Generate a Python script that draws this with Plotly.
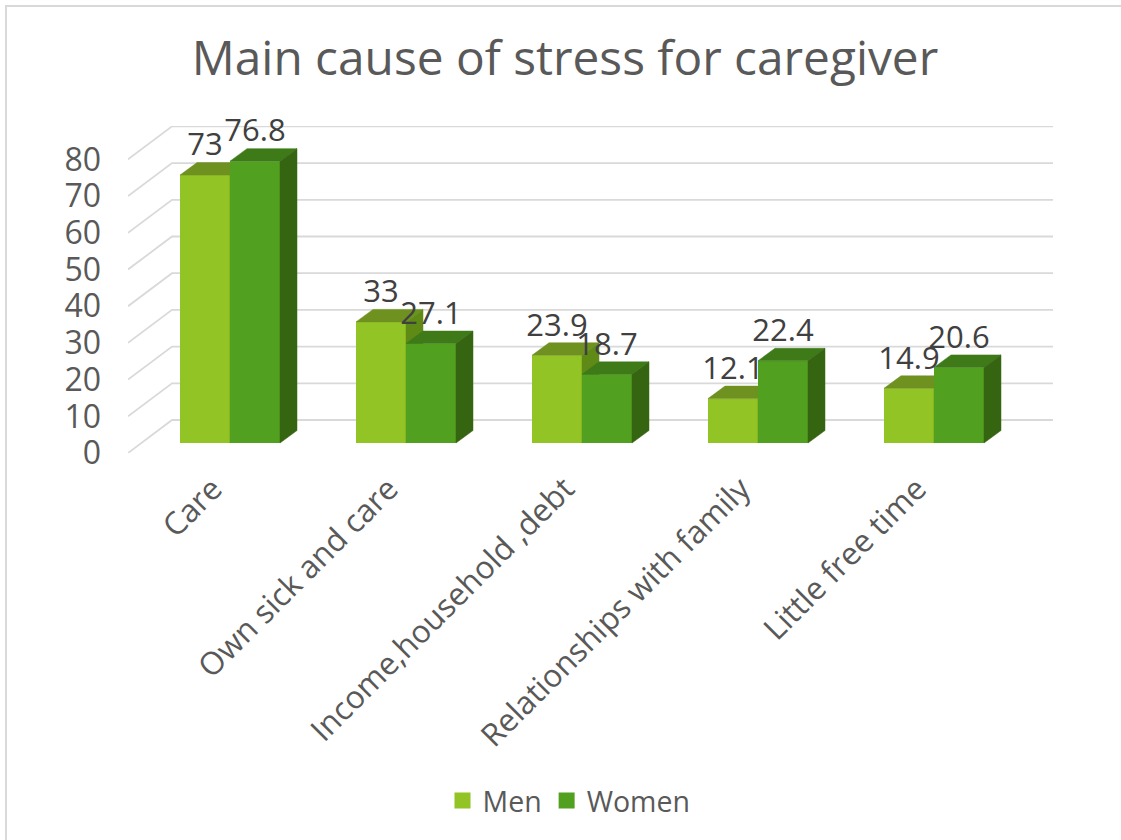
import plotly.graph_objects as go

categories = ["Care", "Own sick and care", "Income,household ,debt", "Relationships with family", "Little free time"]
men = [73, 33, 23.9, 12.1, 14.9]
women = [76.8, 27.1, 18.7, 22.4, 20.6]
men_labels = ["73", "33", "23.9", "12.1", "14.9"]
women_labels = ["76.8", "27.1", "18.7", "22.4", "20.6"]
y_ticks = [0, 10, 20, 30, 40, 50, 60, 70, 80]

W, H = 1121, 840
L, R, T, B = 128, 1053, 126, 453
PX_X = 176.0   # pixels per category
PX_Y = 3.67    # pixels per value unit
X0 = 230.0     # pixel of first category
Y0 = 443.0     # pixel of value 0 on the bars' front plane

bar_w = 50 / PX_X
dep_x = 17 / PX_X
dep_y = 12.5 / PX_Y
lab_up = 27.5 / PX_Y
xr = [(L - X0) / PX_X, (R - X0) / PX_X]
yr = [(Y0 - B) / PX_Y, (Y0 - T) / PX_Y]
grid_back = (B - 420) / PX_Y
x_back = (172 - X0) / PX_X

C = dict(men="#92C425", men_top="#6F9120", men_side="#5F8A16",
         women="#52A020", women_top="#3E7A18", women_side="#366511")
FONT = "Open Sans"
TXT = "#595959"
LAB = "#404040"

fig = go.Figure()

# back-wall gridlines with the side-wall perspective run
for v in y_ticks:
    fig.add_trace(go.Scatter(
        x=[xr[0], x_back, xr[1]], y=[v, v + grid_back, v + grid_back],
        mode="lines", line=dict(color="#D9D9D9", width=1.8),
        showlegend=False, hoverinfo="skip", yaxis="y", cliponaxis=False))


def poly(xs, ys, color, yaxis):
    fig.add_trace(go.Scatter(x=xs, y=ys, mode="lines", fill="toself", fillcolor=color,
                             line=dict(color=color, width=0.5), showlegend=False,
                             hoverinfo="skip", yaxis=yaxis, cliponaxis=False))


def series(vals, name, offset, c_front, c_top, c_side, yaxis):
    fig.add_trace(go.Bar(x=list(range(len(vals))), y=vals, width=bar_w, offset=offset,
                         marker=dict(color=c_front, line=dict(width=0)), name=name,
                         showlegend=False, yaxis=yaxis))
    for i, v in enumerate(vals):
        xa = i + offset
        xb = xa + bar_w
        poly([xa, xb, xb + dep_x, xa + dep_x, xa], [v, v, v + dep_y, v + dep_y, v], c_top, yaxis)
        poly([xb, xb + dep_x, xb + dep_x, xb, xb], [0, dep_y, v + dep_y, v, 0], c_side, yaxis)


series(men, "Men", -bar_w, C["men"], C["men_top"], C["men_side"], "y2")
series(women, "Women", 0, C["women"], C["women_top"], C["women_side"], "y3")

# data labels
idx = list(range(len(categories)))
fig.add_trace(go.Scatter(x=[i - bar_w / 2 for i in idx], y=[v + lab_up for v in men], text=men_labels,
                         mode="text", textposition="middle center", showlegend=False, hoverinfo="skip",
                         textfont=dict(family=FONT, size=31, color=LAB), yaxis="y3", cliponaxis=False))
fig.add_trace(go.Scatter(x=[i + bar_w / 2 for i in idx], y=[v + lab_up for v in women], text=women_labels,
                         mode="text", textposition="middle center", showlegend=False, hoverinfo="skip",
                         textfont=dict(family=FONT, size=31, color=LAB), yaxis="y3", cliponaxis=False))

# legend entries
for name, col in (("Men", C["men"]), ("Women", C["women"])):
    fig.add_trace(go.Scatter(x=[None], y=[None], mode="markers", name=name,
                             marker=dict(symbol="square", size=16, color=col), yaxis="y"))

ax_common = dict(range=yr, showgrid=False, zeroline=False, showticklabels=False, ticks="", showline=False)
fig.update_layout(
    width=W, height=H, autosize=False,
    margin=dict(l=L, r=W - R, t=T, b=H - B, pad=0),
    paper_bgcolor="white", plot_bgcolor="white",
    title=dict(text="Main cause of stress for caregiver", x=565 / W, xanchor="center",
               y=1 - 58 / H, yanchor="middle", font=dict(family=FONT, size=47.8, color=TXT)),
    barmode="overlay",
    xaxis=dict(range=xr, tickmode="array", tickvals=idx, ticktext=categories, tickangle=-45,
               showgrid=False, zeroline=False, showline=False, ticks="",
               ticklabelstandoff=10, ticklabelshift=-17,
               tickfont=dict(family=FONT, size=31.5, color=TXT)),
    yaxis=dict(range=[0, (B - T) / PX_Y], tickmode="array", tickvals=y_ticks,
               showgrid=False, zeroline=False, showline=False, ticks="",
               ticklabelstandoff=26, tickfont=dict(family=FONT, size=32, color=TXT)),
    yaxis2=dict(overlaying="y", **ax_common),
    yaxis3=dict(overlaying="y", **ax_common),
    legend=dict(orientation="h", x=569 / W, xanchor="center", y=1 - 801 / H, yanchor="middle",
                xref="container", yref="container",
                font=dict(family=FONT, size=28.5, color=TXT), itemclick=False),
    shapes=[dict(type="path", xref="paper", yref="paper",
                 path=f"M {(6 - L) / (R - L)} {(B - H) / (B - T)} L {(6 - L) / (R - L)} {(B - 6) / (B - T)} L {(W - L) / (R - L)} {(B - 6) / (B - T)}",
                 line=dict(color="#D9D9D9", width=2))],
)

fig.write_html("out.html", config={"displayModeBar": False},
               post_script="document.body.style.margin='0';document.documentElement.style.overflow='hidden';")
